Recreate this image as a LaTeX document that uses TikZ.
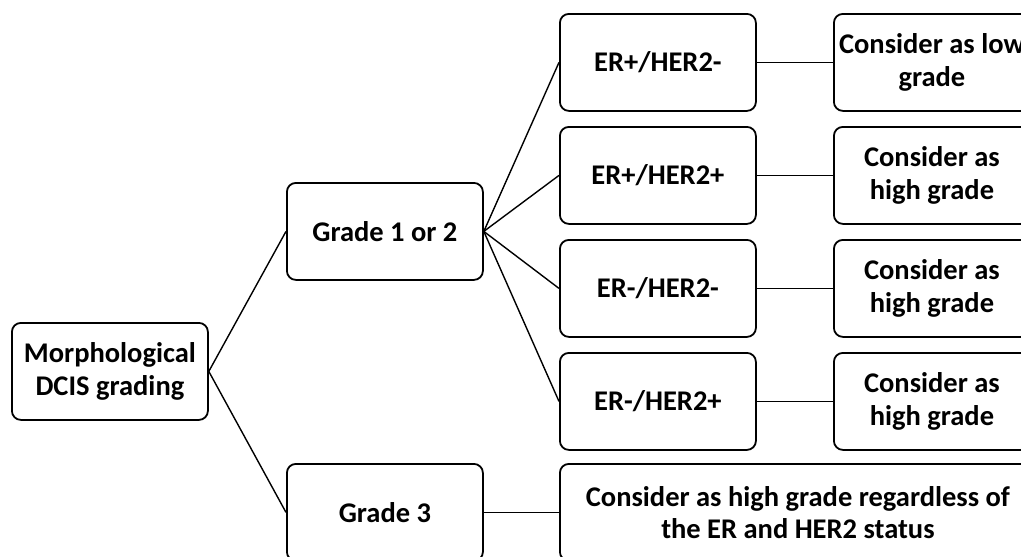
\documentclass[tikz,border=0pt]{standalone}
\usepackage{fontspec}
\setmainfont{Carlito}
\begin{document}
\begin{tikzpicture}[x=1pt,y=-1pt,
  box/.style={draw, line width=1.8pt, rounded corners=9pt, minimum width=196pt, minimum height=97pt, inner sep=0pt, align=center, font=\fontsize{28.5}{32.5}\selectfont\bfseries, anchor=north west},
  conn/.style={line width=1.4pt}]
\useasboundingbox (0,0) rectangle (1021,557);
\clip (0,0) rectangle (1021,557);
\node[box] (morph) at (11,322) {Morphological\\DCIS grading};
\node[box] (g12) at (286,182) {Grade 1 or 2};
\node[box] (g3) at (286,463) {Grade 3};
\node[box] (e1) at (559,13) {ER+/HER2-};
\node[box] (e2) at (559,126) {ER+/HER2+};
\node[box] (e3) at (559,239) {ER-/HER2-};
\node[box] (e4) at (559,352) {ER-/HER2+};
\node[box] (c1) at (833,13) {Consider as low\\grade};
\node[box] (c2) at (833,126) {Consider as\\high grade};
\node[box] (c3) at (833,239) {Consider as\\high grade};
\node[box] (c4) at (833,352) {Consider as\\high grade};
\node[box,minimum width=476pt] (c5) at (559,463) {Consider as high grade regardless of\\the ER and HER2 status};
\draw[conn] (morph.east) -- (g12.west);
\draw[conn] (morph.east) -- (g3.west);
\foreach \e in {e1,e2,e3,e4} \draw[conn] (g12.east) -- (\e.west);
\draw[conn] (e1.east) -- (c1.west);
\draw[conn] (e2.east) -- (c2.west);
\draw[conn] (e3.east) -- (c3.west);
\draw[conn] (e4.east) -- (c4.west);
\draw[conn] (g3.east) -- (c5.west);
\end{tikzpicture}
\end{document}
